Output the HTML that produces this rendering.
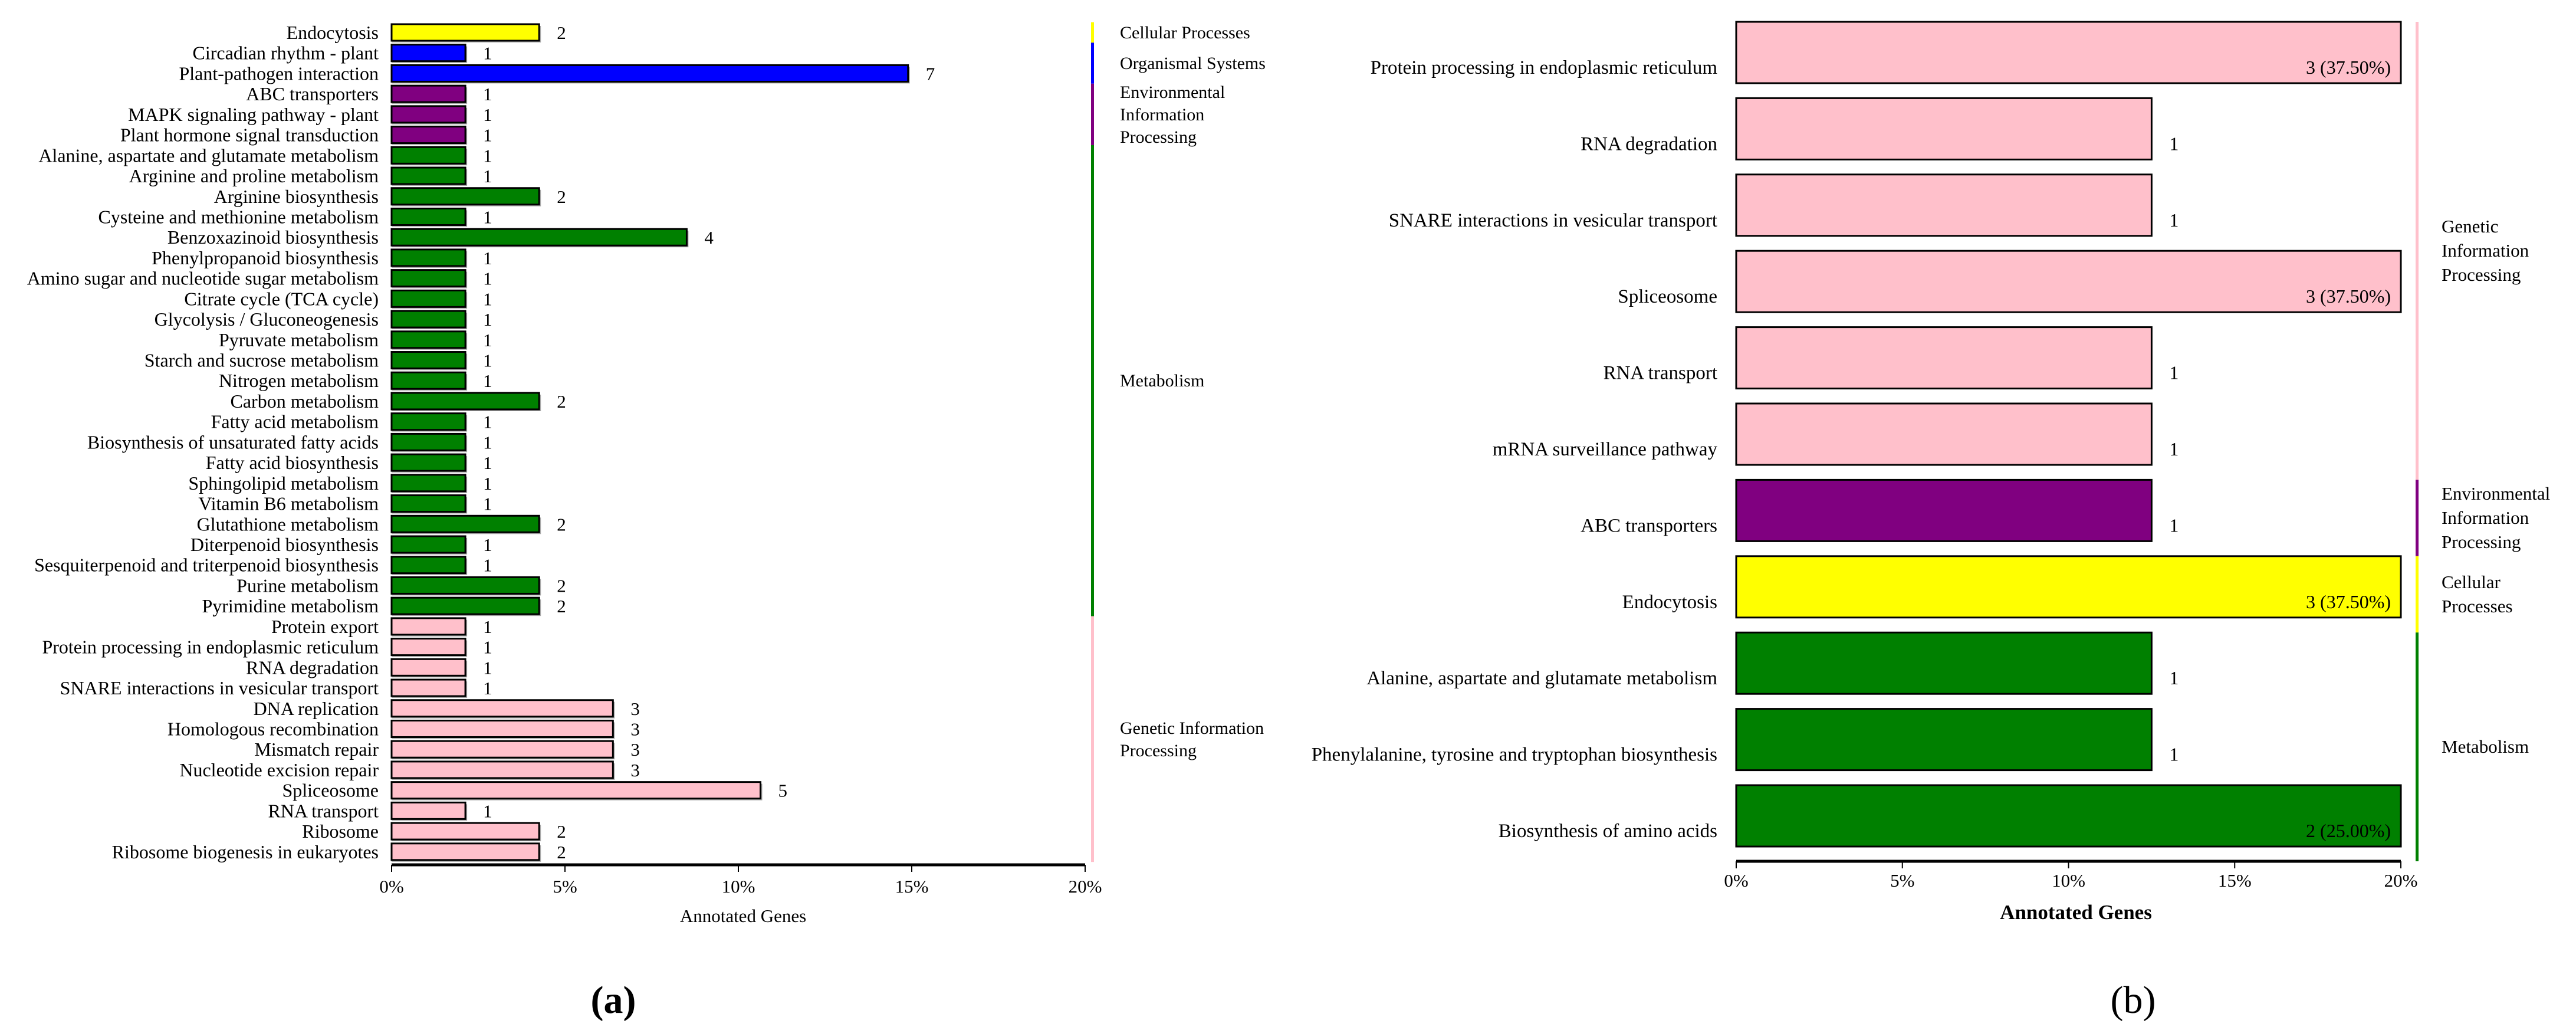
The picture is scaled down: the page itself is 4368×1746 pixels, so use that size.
<!DOCTYPE html>
<html><head><meta charset="utf-8"><style>
html,body{margin:0;padding:0;background:#fff;}
svg{display:block;font-family:"Liberation Serif",serif;}
</style></head><body>
<svg id="chart" width="4368" height="1746" viewBox="0 0 4368 1746" xmlns="http://www.w3.org/2000/svg">
<g id="pa"></g>
<g id="pb"></g>
<text x="1040" y="1717" font-size="66" font-weight="bold" text-anchor="middle">(a)</text>
<text x="3617" y="1717" font-size="66" text-anchor="middle">(b)</text>
</svg>
<script>
const NS='http://www.w3.org/2000/svg';
const colors={CP:'#ffff00',OS:'#0000ff',EIP:'#800080',M:'#008000',GIP:'#ffc0cb'};
// Panel A data
const aCategories=['Endocytosis','Circadian rhythm - plant','Plant-pathogen interaction','ABC transporters','MAPK signaling pathway - plant','Plant hormone signal transduction','Alanine, aspartate and glutamate metabolism','Arginine and proline metabolism','Arginine biosynthesis','Cysteine and methionine metabolism','Benzoxazinoid biosynthesis','Phenylpropanoid biosynthesis','Amino sugar and nucleotide sugar metabolism','Citrate cycle (TCA cycle)','Glycolysis / Gluconeogenesis','Pyruvate metabolism','Starch and sucrose metabolism','Nitrogen metabolism','Carbon metabolism','Fatty acid metabolism','Biosynthesis of unsaturated fatty acids','Fatty acid biosynthesis','Sphingolipid metabolism','Vitamin B6 metabolism','Glutathione metabolism','Diterpenoid biosynthesis','Sesquiterpenoid and triterpenoid biosynthesis','Purine metabolism','Pyrimidine metabolism','Protein export','Protein processing in endoplasmic reticulum','RNA degradation','SNARE interactions in vesicular transport','DNA replication','Homologous recombination','Mismatch repair','Nucleotide excision repair','Spliceosome','RNA transport','Ribosome','Ribosome biogenesis in eukaryotes'];
const aCounts=[2,1,7,1,1,1,1,1,2,1,4,1,1,1,1,1,1,1,2,1,1,1,1,1,2,1,1,2,2,1,1,1,1,3,3,3,3,5,1,2,2];
const aGroups=['CP','OS','OS','EIP','EIP','EIP','M','M','M','M','M','M','M','M','M','M','M','M','M','M','M','M','M','M','M','M','M','M','M','GIP','GIP','GIP','GIP','GIP','GIP','GIP','GIP','GIP','GIP','GIP','GIP'];
const aTotal=47;
const aTicks=['0%','5%','10%','15%','20%'];
const aGroupLabels=[['Cellular Processes'],['Organismal Systems'],['Environmental','Information','Processing'],['Metabolism'],['Genetic Information','Processing']];
// Panel B data
const bCategories=['Protein processing in endoplasmic reticulum','RNA degradation','SNARE interactions in vesicular transport','Spliceosome','RNA transport','mRNA surveillance pathway','ABC transporters','Endocytosis','Alanine, aspartate and glutamate metabolism','Phenylalanine, tyrosine and tryptophan biosynthesis','Biosynthesis of amino acids'];
const bCounts=[3,1,1,3,1,1,1,3,1,1,2];
const bPercentLabels=['3 (37.50%)','1','1','3 (37.50%)','1','1','1','3 (37.50%)','1','1','2 (25.00%)'];
const bPercents=[37.5,12.5,12.5,37.5,12.5,12.5,12.5,37.5,12.5,12.5,25];
const bGroups=['GIP','GIP','GIP','GIP','GIP','GIP','EIP','CP','M','M','M'];
const bTicks=['0%','5%','10%','15%','20%'];
const bGroupLabels=[['Genetic','Information','Processing'],['Environmental','Information','Processing'],['Cellular','Processes'],['Metabolism']];

function mk(parent,tag,attrs,txt){const e=document.createElementNS(NS,tag);for(const k in attrs)e.setAttribute(k,attrs[k]);if(txt!==undefined)e.textContent=txt;parent.appendChild(e);return e;}

// ---- Panel A ----
(function(){
const g=document.getElementById('pa');
const x0=664,x1=1840,maxP=20;
const xs=p=>x0+(Math.min(p,maxP)/maxP)*(x1-x0);
const y0=55,pitch=34.72,bh=28;
const ys=i=>y0+i*pitch;
aCategories.forEach((c,i)=>{
  const p=aCounts[i]/aTotal*100, y=ys(i);
  const sh=mk(g,'rect',{x:x0,y:y-bh/2+3,width:xs(p)-x0+3,height:bh,fill:'#aaa'});
  
  
  const r=mk(g,'rect',{x:x0,y:y-bh/2,width:xs(p)-x0,height:bh,fill:colors[aGroups[i]],stroke:'#000','stroke-width':3});
  
  
  const t=mk(g,'text',{x:642,y:y+11,'font-size':32,'text-anchor':'end'},c);
  
  
  const v=mk(g,'text',{x:xs(p)+30,y:y+11,'font-size':31},aCounts[i]);
  
  
});
const ax=mk(g,'line',{x1:x0,y1:1466,x2:x1,y2:1466,stroke:'#000','stroke-width':5});


aTicks.forEach((t,i)=>{
  const x=xs(i*5);
  const tk=mk(g,'line',{x1:x,y1:1466,x2:x,y2:1478,stroke:'#000','stroke-width':2});
  
  
  const tl=mk(g,'text',{x:x,y:1513,'font-size':31,'text-anchor':'middle'},t);
  
  
});
const at=mk(g,'text',{x:1260,y:1563,'font-size':31,'text-anchor':'middle'},'Annotated Genes');


const order=['CP','OS','EIP','M','GIP'];
order.forEach((k,gi)=>{
  const idx=aGroups.map((v,i)=>v===k?i:-1).filter(i=>i>=0);
  const top=ys(idx[0])-pitch/2, bot=ys(idx[idx.length-1])+pitch/2;
  const l=mk(g,'rect',{x:1850,y:top,width:5,height:bot-top,fill:colors[k]});
  
  
  const lines=aGroupLabels[gi];
  const mid=(top+bot)/2-(lines.length-1)*19+10;
  lines.forEach((s,j)=>{
    const t=mk(g,'text',{x:1899,y:mid+j*38,'font-size':30},s);
    
    
  });
});
})();

// ---- Panel B ----
(function(){
const g=document.getElementById('pb');
const x0=2944,x1=4071,maxP=20;
const xs=p=>x0+(Math.min(p,maxP)/maxP)*(x1-x0);
const y0=89,pitch=129.4,bh=104;
const ys=i=>y0+i*pitch;
bCategories.forEach((c,i)=>{
  const p=bPercents[i], y=ys(i);
  const r=mk(g,'rect',{x:x0,y:y-bh/2,width:xs(p)-x0,height:bh,fill:colors[bGroups[i]],stroke:'#000','stroke-width':3});
  
  
  const t=mk(g,'text',{x:2912,y:y+36,'font-size':33,'text-anchor':'end'},c);
  
  
  const clipped=p>=maxP;
  const v=mk(g,'text',{x:clipped?xs(p)-17:xs(p)+30,y:y+36,'font-size':32,'text-anchor':clipped?'end':'start'},bPercentLabels[i]);
  
  
});
const ax=mk(g,'line',{x1:x0,y1:1460,x2:x1,y2:1460,stroke:'#000','stroke-width':5});


bTicks.forEach((t,i)=>{
  const x=xs(i*5);
  const tk=mk(g,'line',{x1:x,y1:1460,x2:x,y2:1472,stroke:'#000','stroke-width':2});
  
  
  const tl=mk(g,'text',{x:x,y:1503,'font-size':31,'text-anchor':'middle'},t);
  
  
});
const at=mk(g,'text',{x:3520,y:1558,'font-size':35,'font-weight':'bold','text-anchor':'middle'},'Annotated Genes');


const order=['GIP','EIP','CP','M'];
order.forEach((k,gi)=>{
  const idx=bGroups.map((v,i)=>v===k?i:-1).filter(i=>i>=0);
  const top=ys(idx[0])-bh/2, bot=ys(idx[idx.length-1])+pitch-bh/2;
  const l=mk(g,'rect',{x:4096,y:top,width:5,height:Math.min(bot,1460)-top,fill:colors[k]});
  
  
  const lines=bGroupLabels[gi];
  const mid=(top+Math.min(bot,1460))/2-(lines.length-1)*20.5+10;
  lines.forEach((s,j)=>{
    const t=mk(g,'text',{x:4140,y:mid+j*41,'font-size':31},s);
    
    
  });
});
})();
</script>
</body></html>
